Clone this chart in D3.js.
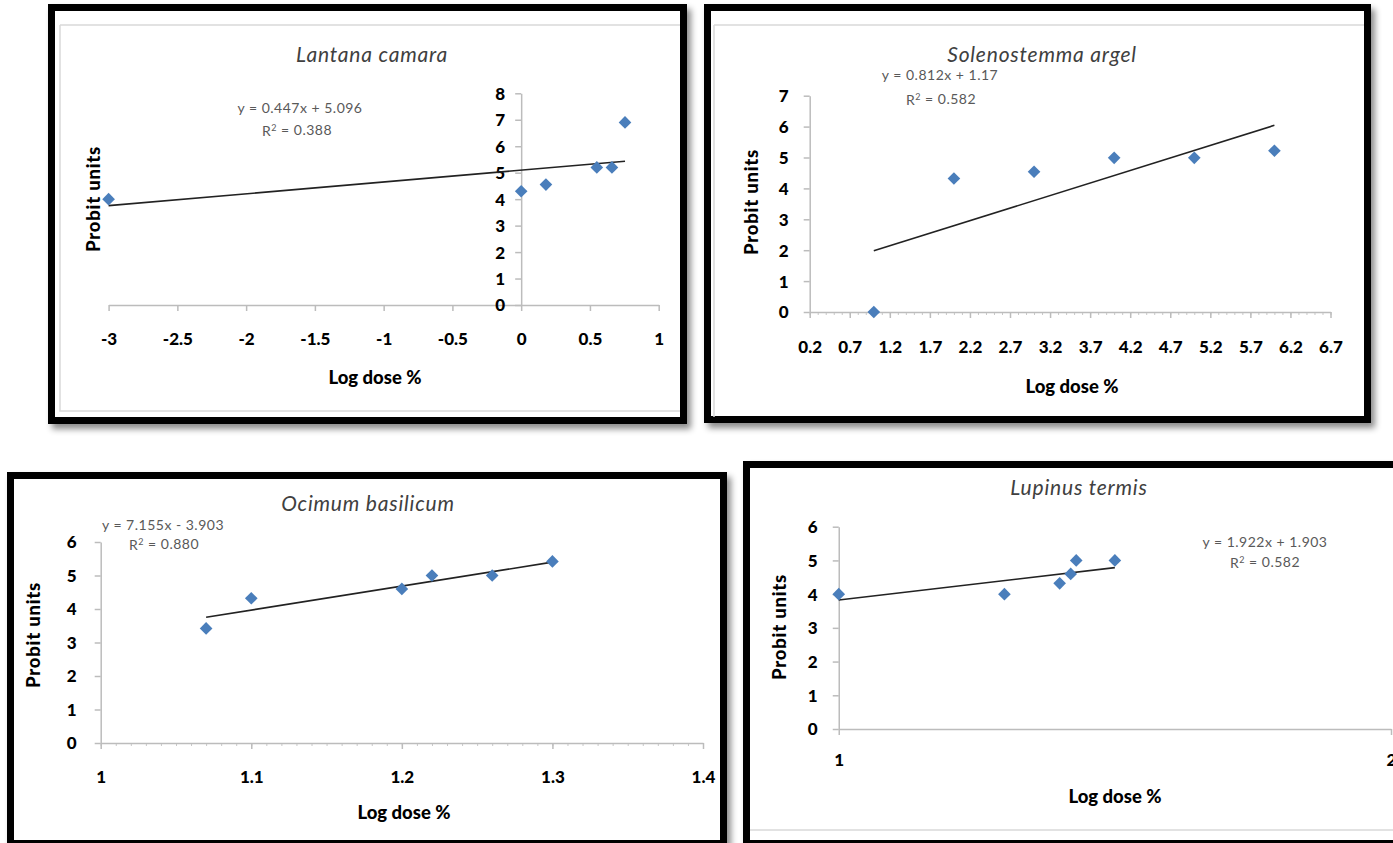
<!DOCTYPE html>
<html>
<head>
<meta charset="utf-8">
<script src="https://cdn.jsdelivr.net/npm/d3@7"></script>
<style>
  html, body { margin: 0; padding: 0; background: #ffffff; }
  svg { display: block; }
  text { font-family: Lato, "Open Sans", "Liberation Sans", sans-serif; }
</style>
</head>
<body>
<svg id="chart" width="1393" height="843"></svg>
<script>
// ---------------- DATA ----------------
// Lantana camara
const lantanaDose   = [-3, 0, 0.18, 0.55, 0.66, 0.755];
const lantanaProbit = [4.0, 4.3, 4.55, 5.2, 5.2, 6.9];
const lantanaXTicks = [-3, -2.5, -2, -1.5, -1, -0.5, 0, 0.5, 1];
const lantanaYTicks = [0, 1, 2, 3, 4, 5, 6, 7, 8];
const lantanaFit    = [0.447, 5.096];
const lantanaEq     = ["y = 0.447x + 5.096", "0.388"];

// Solenostemma argel
const solenoDose   = [1, 2, 3, 4, 5, 6];
const solenoProbit = [0, 4.32, 4.54, 4.99, 4.99, 5.22];
const solenoXTicks = [0.2, 0.7, 1.2, 1.7, 2.2, 2.7, 3.2, 3.7, 4.2, 4.7, 5.2, 5.7, 6.2, 6.7];
const solenoYTicks = [0, 1, 2, 3, 4, 5, 6, 7];
const solenoFit    = [0.812, 1.17];
const solenoEq     = ["y = 0.812x + 1.17", "0.582"];

// Ocimum basilicum
const ocimumDose   = [1.07, 1.1, 1.2, 1.22, 1.26, 1.3];
const ocimumProbit = [3.42, 4.32, 4.6, 5.0, 5.0, 5.42];
const ocimumXTicks = [1, 1.1, 1.2, 1.3, 1.4];
const ocimumYTicks = [0, 1, 2, 3, 4, 5, 6];
const ocimumFit    = [7.155, -3.903];
const ocimumEq     = ["y = 7.155x - 3.903", "0.880"];

// Lupinus termis
const lupinusDose   = [1, 1.3, 1.4, 1.42, 1.43, 1.5];
const lupinusProbit = [4.0, 4.0, 4.32, 4.6, 5.0, 5.0];
const lupinusXTicks = [1, 2];
const lupinusYTicks = [0, 1, 2, 3, 4, 5, 6];
const lupinusFit    = [1.922, 1.903];
const lupinusEq     = ["y = 1.922x + 1.903", "0.582"];

const titles = ["Lantana camara", "Solenostemma argel", "Ocimum basilicum", "Lupinus termis"];
const xAxisTitle = "Log dose %";
const yAxisTitle = "Probit units";

// ---------------- LAYOUT ----------------
const panels = [
  { title: titles[0], dose: lantanaDose, probit: lantanaProbit, xTicks: lantanaXTicks, yTicks: lantanaYTicks,
    fit: lantanaFit, eq: lantanaEq,
    border: [48, 4, 687, 424], xr: [108.6, 658.7], yr: [305, 93.3], yAxisAt: 0, minor: null,
    titlePos: [372, 55], xtPos: [375, 378], ytPos: [94, 199], eqPos: [300, 108], r2Pos: [297, 131],
    xlabOff: 34, ylabOff: 21 },
  { title: titles[1], dose: solenoDose, probit: solenoProbit, xTicks: solenoXTicks, yTicks: solenoYTicks,
    fit: solenoFit, eq: solenoEq,
    border: [704, 4, 1371, 423], xr: [809.7, 1330.5], yr: [312, 95.7], yAxisAt: null, minor: 0.1,
    titlePos: [1042, 55], xtPos: [1072, 387], ytPos: [752, 202], eqPos: [940, 75], r2Pos: [941, 100],
    xlabOff: 35, ylabOff: 26 },
  { title: titles[2], dose: ocimumDose, probit: ocimumProbit, xTicks: ocimumXTicks, yTicks: ocimumYTicks,
    fit: ocimumFit, eq: ocimumEq,
    border: [7, 472, 727, 847], xr: [100.7, 703], yr: [743, 542], yAxisAt: null, minor: 0.01,
    titlePos: [368, 504], xtPos: [404, 813], ytPos: [34, 635], eqPos: [163, 525], r2Pos: [164, 545],
    xlabOff: 34, ylabOff: 29 },
  { title: titles[3], dose: lupinusDose, probit: lupinusProbit, xTicks: lupinusXTicks, yTicks: lupinusYTicks,
    fit: lupinusFit, eq: lupinusEq,
    border: [743, 461, 1412, 847], xr: [838.75, 1391], yr: [729, 526.7], yAxisAt: null, minor: null,
    titlePos: [1079, 488], xtPos: [1115, 797], ytPos: [780, 627], eqPos: [1265, 542], r2Pos: [1265, 563],
    xlabOff: 31, ylabOff: 26 }
];

const svg = d3.select("#chart");
svg.append("rect").attr("width", 1393).attr("height", 843).attr("fill", "#ffffff");

const defs = svg.append("defs");
const filt = defs.append("filter").attr("id", "shadow")
  .attr("x", "-5%").attr("y", "-5%").attr("width", "112%").attr("height", "112%");
filt.append("feDropShadow").attr("dx", 4).attr("dy", 5).attr("stdDeviation", 3)
  .attr("flood-color", "#000").attr("flood-opacity", 0.45);

const BW = 7;
const AXIS_COLOR = "#bcbcbc";
const MARKER = "#4a7ebb";
const LABEL_FONT = 17;
const TITLE_AXIS_FONT = 18.5;

panels.forEach((p, i) => {
  const [x0, y0, x1, y1] = p.border;
  const g = svg.append("g");

  // frame with shadow
  g.append("rect")
    .attr("x", x0 + BW / 2).attr("y", y0 + BW / 2)
    .attr("width", x1 - x0 - BW).attr("height", y1 - y0 - BW)
    .attr("fill", "#ffffff").attr("stroke", "#000").attr("stroke-width", BW)
    .attr("filter", "url(#shadow)");

  const xDom = [p.xTicks[0], p.xTicks[p.xTicks.length - 1]];
  const yDom = [p.yTicks[0], p.yTicks[p.yTicks.length - 1]];
  const x = d3.scaleLinear().domain(xDom).range(p.xr);
  const y = d3.scaleLinear().domain(yDom).range(p.yr);

  const yAxisX = p.yAxisAt === null ? p.xr[0] : x(p.yAxisAt);

  // minor ticks
  if (p.minor) {
    const minorTicks = d3.range(Math.round((xDom[1] - xDom[0]) / p.minor) + 1).map(k => xDom[0] + k * p.minor);
    g.append("g").attr("transform", `translate(0,${y(0)})`)
      .call(d3.axisBottom(x).tickValues(minorTicks).tickSize(3).tickFormat(""))
      .call(a => a.select(".domain").remove())
      .call(a => a.selectAll(".tick line").attr("stroke", "#c8c8c8"));
  }

  // x axis
  const xa = g.append("g").attr("transform", `translate(0,${y(0)})`)
    .call(d3.axisBottom(x).tickValues(p.xTicks).tickSize(6).tickSizeOuter(0).tickFormat(d => String(d)));
  xa.select(".domain").attr("stroke", AXIS_COLOR).attr("stroke-width", 1.5);
  xa.selectAll(".tick line").attr("stroke", AXIS_COLOR).attr("stroke-width", 1.5);
  xa.selectAll(".tick text")
    .attr("y", p.xlabOff).attr("dy", "0.35em")
    .attr("fill", "#000").attr("font-size", LABEL_FONT).attr("font-weight", 900)
    .attr("font-family", "Lato, sans-serif");

  // y axis
  const ya = g.append("g").attr("transform", `translate(${yAxisX},0)`)
    .call(d3.axisLeft(y).tickValues(p.yTicks).tickSize(6).tickSizeOuter(0).tickFormat(d => String(d)));
  ya.select(".domain").attr("stroke", AXIS_COLOR).attr("stroke-width", 1.5);
  ya.selectAll(".tick line").attr("stroke", AXIS_COLOR).attr("stroke-width", 1.5);
  ya.selectAll(".tick text")
    .attr("x", -p.ylabOff).attr("text-anchor", "middle").attr("dy", "0.35em")
    .attr("fill", "#000").attr("font-size", LABEL_FONT).attr("font-weight", 900)
    .attr("font-family", "Lato, sans-serif");

  // trendline from fit over the data x-range
  const [slope, icpt] = p.fit;
  const xe = d3.extent(p.dose);
  g.append("line")
    .attr("x1", x(xe[0])).attr("y1", y(slope * xe[0] + icpt))
    .attr("x2", x(xe[1])).attr("y2", y(slope * xe[1] + icpt))
    .attr("stroke", "#222").attr("stroke-width", 1.6);

  // points
  const pts = p.dose.map((d, k) => [d, p.probit[k]]);
  g.selectAll("path.pt").data(pts).enter().append("path")
    .attr("class", "pt")
    .attr("d", d3.symbol(d3.symbolSquare, 80))
    .attr("transform", d => `translate(${x(d[0])},${y(d[1])}) rotate(45)`)
    .attr("fill", MARKER);

  // title
  g.append("text").attr("x", p.titlePos[0]).attr("y", p.titlePos[1]).attr("dy", "0.35em")
    .attr("text-anchor", "middle").attr("font-size", 21).attr("font-style", "italic")
    .attr("letter-spacing", 0.8).attr("fill", "#404040").text(p.title);

  // axis titles
  g.append("text").attr("x", p.xtPos[0]).attr("y", p.xtPos[1]).attr("dy", "0.35em")
    .attr("text-anchor", "middle").attr("font-size", TITLE_AXIS_FONT).attr("font-weight", 900)
    .attr("fill", "#000").text(xAxisTitle);
  g.append("text").attr("transform", `translate(${p.ytPos[0]},${p.ytPos[1]}) rotate(-90)`)
    .attr("dy", "0.35em").attr("text-anchor", "middle").attr("font-size", TITLE_AXIS_FONT).attr("font-weight", 900)
    .attr("letter-spacing", 0.8).attr("fill", "#000").text(yAxisTitle);

  // equation & R2
  g.append("text").attr("x", p.eqPos[0]).attr("y", p.eqPos[1]).attr("dy", "0.35em")
    .attr("text-anchor", "middle").attr("font-size", 14).attr("letter-spacing", 0.5)
    .attr("fill", "#595959").text(p.eq[0]);
  const r2 = g.append("text").attr("x", p.r2Pos[0]).attr("y", p.r2Pos[1]).attr("dy", "0.35em")
    .attr("text-anchor", "middle").attr("font-size", 14).attr("letter-spacing", 0.5).attr("fill", "#595959");
  r2.append("tspan").text("R");
  r2.append("tspan").attr("font-size", 9).attr("dy", "-0.6em").text("2");
  r2.append("tspan").attr("dy", "0.3em").text(" = " + p.eq[1]);
});

// faint chart-area / sheet lines inside frames
const faint = svg.append("g").attr("stroke", "#d9d9d9").attr("stroke-width", 1.5).attr("fill", "none");
faint.append("path").attr("d", "M60,25H680M60,25V411H680");
faint.append("path").attr("d", "M714,25H1364M714,25V417");
faint.append("path").attr("d", "M750,830H1393");
</script>
</body>
</html>
